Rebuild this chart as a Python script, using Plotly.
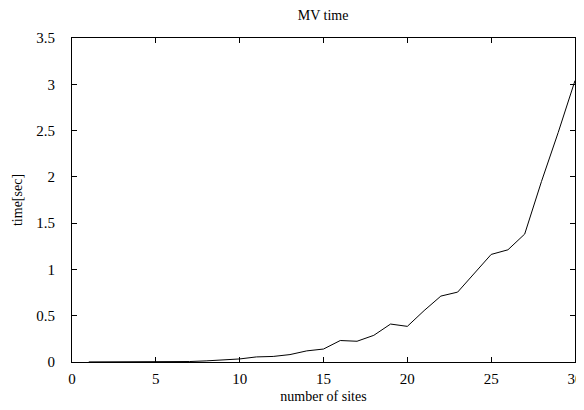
import plotly.graph_objects as go

sites = list(range(1, 31))
times = [0.001, 0.001, 0.001, 0.001, 0.002, 0.003, 0.005, 0.012, 0.02, 0.033,
         0.055, 0.06, 0.08, 0.12, 0.14, 0.232, 0.224, 0.288, 0.41, 0.385,
         0.555, 0.712, 0.755, 0.955, 1.162, 1.212, 1.382, 1.95, 2.48, 3.04]

font_family = "Liberation Serif, Times New Roman, serif"

fig = go.Figure()
fig.add_trace(go.Scatter(x=sites, y=times, mode="lines",
                         line=dict(color="black", width=1), showlegend=False))

axis_common = dict(showgrid=False, zeroline=False, showline=True, linecolor="black",
                   linewidth=1, ticks="inside", ticklen=5, tickcolor="black",
                   mirror="allticks", automargin=False,
                   tickfont=dict(family=font_family, size=15, color="black"))

# page body has an 8px default margin, so the figure is sized to fit the window
fig.update_layout(
    width=576, height=402,
    margin=dict(l=64, r=9, t=30, b=48),
    paper_bgcolor="white", plot_bgcolor="white",
    title=dict(text="MV time", x=0.547, xanchor="center", y=0.995, yanchor="top",
               pad=dict(t=0, b=0),
               font=dict(family=font_family, size=14, color="black")),
    xaxis=dict(range=[0, 30], dtick=5, tick0=0, ticklabelstandoff=3,
               title=dict(text="number of sites", standoff=5,
                          font=dict(family=font_family, size=14, color="black")),
               **axis_common),
    yaxis=dict(range=[0, 3.5], dtick=0.5, tick0=0, ticklabelstandoff=13,
               title=dict(text="time[sec]", standoff=10,
                          font=dict(family=font_family, size=14, color="black")),
               **axis_common),
)

fig.write_html("out.html")
